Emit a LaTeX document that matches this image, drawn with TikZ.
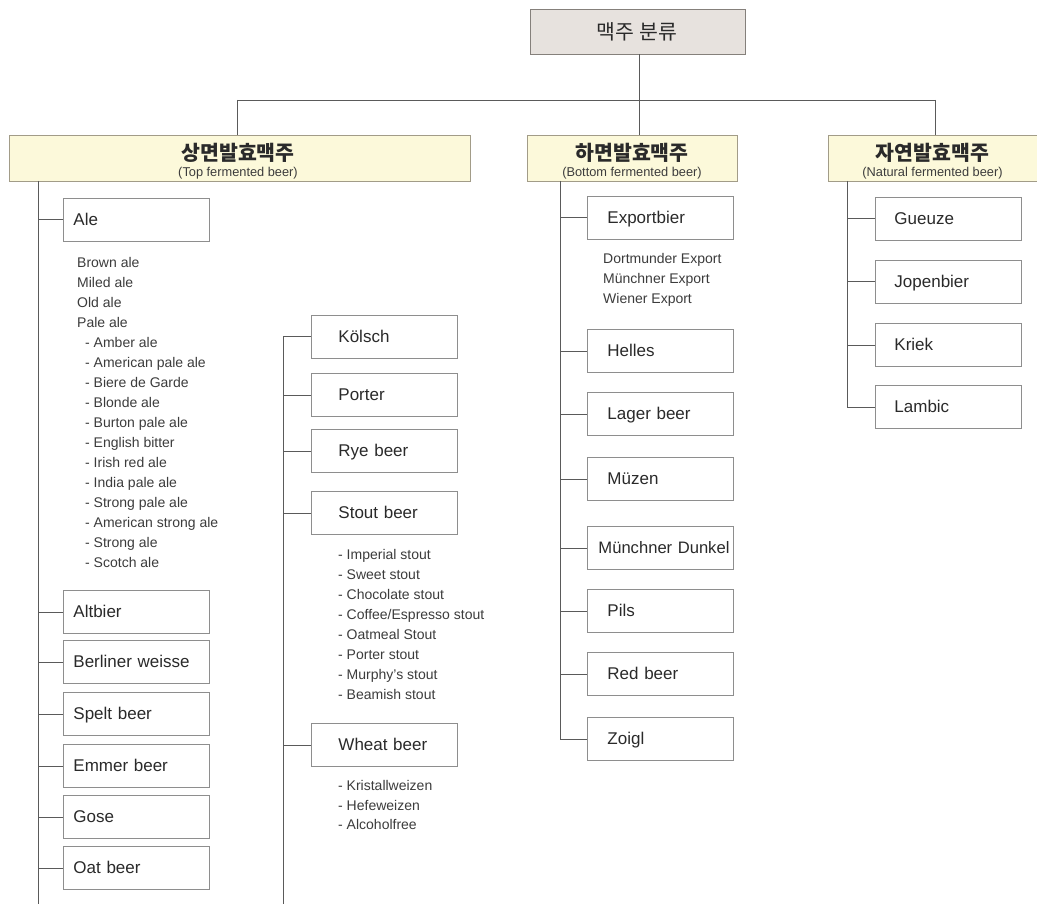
\documentclass[tikz,border=0pt]{standalone}
\usepackage{fontspec}
\setmainfont{Liberation Sans}
\newfontfamily\krfont{Noto Sans CJK KR}
\definecolor{linec}{HTML}{5A5A5A}
\definecolor{boxc}{HTML}{8E8E8E}
\definecolor{catfill}{HTML}{FCF9DA}
\definecolor{catdraw}{HTML}{A29C88}
\definecolor{titlefill}{HTML}{E7E2DE}
\definecolor{titledraw}{HTML}{85807B}
\definecolor{txt}{HTML}{2A2A2A}
\definecolor{ltxt}{HTML}{3C3C3C}
\begin{document}
\begin{tikzpicture}[x=1pt,y=-1pt,
  conn/.style={draw=linec,line width=0.9pt},
  item/.style={draw=boxc,line width=0.9pt,fill=white,rectangle,anchor=north west,
    minimum width=146pt,minimum height=43pt,inner xsep=0pt,inner ysep=0pt,
    text width=146pt,align=left,text height=12pt,text depth=0pt,text=txt,
    font=\fontsize{17}{20}\selectfont,execute at begin node={\hspace*{#1pt}}},
  catbox/.style={draw=catdraw,line width=0.9pt,fill=catfill,rectangle,minimum height=46pt,inner sep=0pt},
  krtxt/.style={font=\krfont\bfseries\fontsize{20.5}{24}\selectfont,text=txt,anchor=base,inner sep=0pt},
  subtxt/.style={font=\fontsize{12.8}{14}\selectfont,text=ltxt,anchor=base,inner sep=0pt},
  listtxt/.style={font=\fontsize{14}{20}\selectfont,text=ltxt,anchor=base west,inner sep=0pt}
]
\useasboundingbox[fill=white] (0,0) rectangle (1037,904);

% title
\node[draw=titledraw,fill=titlefill,line width=0.9pt,minimum width=215pt,minimum height=45pt,inner sep=0pt] (title) at (637.5,31.5) {};
\node[font=\krfont\fontsize{20.5}{22}\selectfont,text=txt,anchor=base,inner sep=0pt] (titlet) at (637,39.5) {맥주 분류};

% category boxes
\node[catbox,minimum width=461pt] (top) at (239.5,158) {};
\node[krtxt] (topk) at (238,160.5) {상면발효맥주};
\node[subtxt] (tops) at (238,176.5) {(Top fermented beer)};
\node[catbox,minimum width=210pt] (bot) at (632,158) {};
\node[krtxt] (botk) at (632,160.5) {하면발효맥주};
\node[subtxt] (bots) at (632,176.5) {(Bottom fermented beer)};
\node[catbox,minimum width=209pt] (nat) at (932.5,158) {};
\node[krtxt] (natk) at (932.5,160.5) {자연발효맥주};
\node[subtxt] (nats) at (932.5,176.5) {(Natural fermented beer)};

% top connectors
\coordinate (hl) at (237,100);
\coordinate (hr) at (935,100);
\draw[conn] (title.south -| 639,0) -- (bot.north -| 639,0);
\draw[conn] (hl) -- (hr);
\draw[conn] (hl) -- (hl |- top.north);
\draw[conn] (hr) -- (hr |- nat.north);

% top fermented: column 1
\node[item=10] (ale) at (63,198) {Ale};
\node[item=10] (altbier) at (63,590) {Altbier};
\node[item=10] (berliner) at (63,640) {Berliner weisse};
\node[item=10] (spelt) at (63,692) {Spelt beer};
\node[item=10] (emmer) at (63,744) {Emmer beer};
\node[item=10] (gose) at (63,795) {Gose};
\node[item=10] (oat) at (63,846) {Oat beer};
\coordinate (t1a) at (38,181);
\coordinate (t1b) at (38,904);
\draw[conn] (t1a) -- (t1b);
\foreach \n in {ale,altbier,berliner,spelt,emmer,gose,oat}
  \draw[conn] (\n.west) -- (\n.west -| t1a);

\foreach \t [count=\i from 0] in {Brown ale,Miled ale,Old ale,Pale ale}
  \node[listtxt] (alel\i) at (77,267.5+20*\i) {\t};
\foreach \t [count=\i from 4] in {- Amber ale,- American pale ale,- Biere de Garde,- Blonde ale,- Burton pale ale,- English bitter,- Irish red ale,- India pale ale,- Strong pale ale,- American strong ale,- Strong ale,- Scotch ale}
  \node[listtxt] (alel\i) at (85,267.5+20*\i) {\t};

% top fermented: column 2
\node[item=27] (koelsch) at (311,315) {Kölsch};
\node[item=27] (porter) at (311,373) {Porter};
\node[item=27] (rye) at (311,429) {Rye beer};
\node[item=27] (stout) at (311,491) {Stout beer};
\node[item=27] (wheat) at (311,723) {Wheat beer};
\coordinate (t2b) at (283,904);
\draw[conn] (koelsch.west) -| (t2b);
\foreach \n in {porter,rye,stout,wheat}
  \draw[conn] (\n.west) -- (\n.west -| t2b);

\foreach \t [count=\i from 0] in {- Imperial stout,- Sweet stout,- Chocolate stout,- Coffee/Espresso stout,- Oatmeal Stout,- Porter stout,- Murphy's stout,- Beamish stout}
  \node[listtxt] (stl\i) at (338,559.5+20*\i) {\t};
\foreach \t [count=\i from 0] in {- Kristallweizen,- Hefeweizen,- Alcoholfree}
  \node[listtxt] (whl\i) at (338,790.5+19.7*\i) {\t};

% bottom fermented
\node[item=20] (export) at (587,196) {Exportbier};
\node[item=20] (helles) at (587,329) {Helles};
\node[item=20] (lager) at (587,392) {Lager beer};
\node[item=20] (muzen) at (587,457) {Müzen};
\node[item=11,font=\fontsize{16.6}{20}\selectfont] (dunkel) at (587,526) {\mbox{Münchner Dunkel}};
\node[item=20] (pils) at (587,589) {Pils};
\node[item=20] (red) at (587,652) {Red beer};
\node[item=20] (zoigl) at (587,717) {Zoigl};
\coordinate (t3a) at (560,181);
\draw[conn] (t3a) |- (zoigl.west);
\foreach \n in {export,helles,lager,muzen,dunkel,pils,red}
  \draw[conn] (\n.west) -- (\n.west -| t3a);
\foreach \t [count=\i from 0] in {Dortmunder Export,Münchner Export,Wiener Export}
  \node[listtxt] (exl\i) at (603,263.5+20*\i) {\t};

% natural fermented
\node[item=19] (gueuze) at (875,197) {Gueuze};
\node[item=19] (jopen) at (875,260) {Jopenbier};
\node[item=19] (kriek) at (875,323) {Kriek};
\node[item=19] (lambic) at (875,385) {Lambic};
\coordinate (t4a) at (847,181);
\draw[conn] (t4a) |- (lambic.west);
\foreach \n in {gueuze,jopen,kriek}
  \draw[conn] (\n.west) -- (\n.west -| t4a);
\end{tikzpicture}
\end{document}
